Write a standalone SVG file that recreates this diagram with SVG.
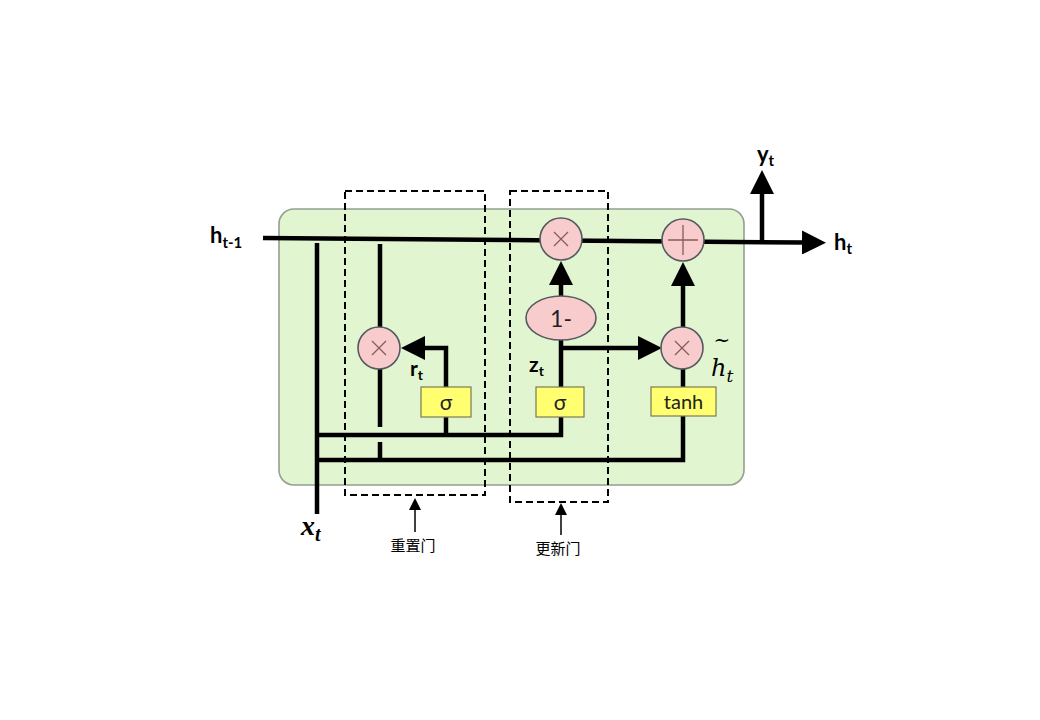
<svg xmlns="http://www.w3.org/2000/svg" width="1040" height="720" viewBox="0 0 1040 720">
<style>
.wire{fill:none;stroke:#000;stroke-width:4.5;stroke-linecap:butt;stroke-linejoin:miter}
.thin{fill:none;stroke:#000;stroke-width:1.5}
.dash{fill:none;stroke:#000;stroke-width:2;stroke-dasharray:7 4}
.op{fill:#f8cccc;stroke:#555a60;stroke-width:1.6}
.sym{stroke:#8a5a5a;stroke-width:1.3;fill:none}
.act{fill:#ffff70;stroke:#7a7a50;stroke-width:1.2}
.lab{font-family:Lato,"Liberation Sans",sans-serif;font-weight:bold;fill:#000}
.in{font-family:Lato,"Liberation Sans",sans-serif;fill:#222}
.zh{font-family:"Noto Sans CJK SC",sans-serif;font-size:15px;fill:#000}
</style>
<defs>
<marker id="ah" viewBox="0 0 24 24" markerWidth="24" markerHeight="24" markerUnits="userSpaceOnUse" refX="2" refY="12" orient="auto">
<path d="M0,0 L24,12 L0,24 z" fill="#000"/>
</marker>
<marker id="sa" viewBox="0 0 12 12" markerWidth="12" markerHeight="12" markerUnits="userSpaceOnUse" refX="1" refY="6" orient="auto">
<path d="M0,0 L12,6 L0,12 z" fill="#000"/>
</marker>
</defs>
<rect width="1040" height="720" fill="#fff"/>
<g id="cell"><rect x="279" y="209" width="465" height="276" rx="15" fill="#e1f6d0" stroke="#939f90" stroke-width="1.6"/></g>
<g id="reset-gate-box"><rect class="dash" x="345" y="191" width="140" height="304"/></g>
<g id="update-gate-box"><rect class="dash" x="510" y="191" width="98" height="311"/></g>
<g id="connectors">
<path class="wire" d="M263,238 L804,242.5" marker-end="url(#ah)"/>
<path class="wire" d="M762,242 V192" marker-end="url(#ah)"/>
<path class="wire" d="M317,243 V514"/>
<path class="wire" d="M380,244 V427"/>
<path class="wire" d="M380,442 V460"/>
<path class="wire" d="M317,435 H561 V318"/>
<path class="wire" d="M561,348 H640" marker-end="url(#ah)"/>
<path class="wire" d="M446,435 V348 H423" marker-end="url(#ah)"/>
<path class="wire" d="M317,460 H683 V348"/>
<path class="wire" d="M561,296 V283" marker-end="url(#ah)"/>
<path class="wire" d="M683,327 V284" marker-end="url(#ah)"/>
<path class="thin" d="M415,532 V509" marker-end="url(#sa)"/>
<path class="thin" d="M561,535 V514" marker-end="url(#sa)"/>
</g>
<g id="reset-mult"><circle class="op" cx="379" cy="348" r="21"/><path class="sym" d="M372,341 L386,355 M386,341 L372,355"/></g>
<g id="update-mult"><circle class="op" cx="561" cy="239" r="21"/><path class="sym" d="M554,232 L568,246 M568,232 L554,246"/></g>
<g id="add"><circle class="op" cx="683" cy="240" r="21"/><path class="sym" d="M668,240 H698 M683,225 V255"/></g>
<g id="cand-mult"><circle class="op" cx="682" cy="348" r="21"/><path class="sym" d="M675,341 L689,355 M689,341 L675,355"/></g>
<g id="one-minus"><ellipse class="op" cx="561" cy="318" rx="35" ry="22"/><text class="in" x="561" y="327" font-size="23" text-anchor="middle">1-</text></g>
<g id="sigma-r"><rect class="act" x="421" y="387" width="50" height="30"/><text class="in" x="446" y="410" font-size="21" text-anchor="middle">σ</text></g>
<g id="sigma-z"><rect class="act" x="536" y="387" width="48" height="30"/><text class="in" x="560" y="410" font-size="21" text-anchor="middle">σ</text></g>
<g id="tanh"><rect class="act" x="651" y="387" width="65" height="29"/><text class="in" x="683.5" y="409" font-size="20" text-anchor="middle">tanh</text></g>
<g id="labels">
<text class="lab" x="210" y="243" font-size="22">h<tspan font-size="15" dy="5">t-1</tspan></text>
<text class="lab" x="757" y="162" font-size="22">y<tspan font-size="15" dy="4">t</tspan></text>
<text class="lab" x="834" y="250" font-size="22">h<tspan font-size="15" dy="4">t</tspan></text>
<text class="lab" x="410" y="376" font-size="21">r<tspan font-size="14" dy="4">t</tspan></text>
<text class="lab" x="529" y="372" font-size="21">z<tspan font-size="14" dy="4">t</tspan></text>
<text x="711" y="376" font-family="'DejaVu Serif','Liberation Serif',serif" font-style="italic" font-size="24">h<tspan font-size="17" dy="6">t</tspan></text>
<text x="722" y="347" font-family="'DejaVu Serif','Liberation Serif',serif" font-size="20" text-anchor="middle">~</text>
<text x="301" y="535" font-family="'Liberation Serif',serif" font-style="italic" font-weight="bold" font-size="28">x<tspan font-size="20" dy="6">t</tspan></text>
<text class="zh" x="413" y="551" text-anchor="middle">重置门</text>
<text class="zh" x="558" y="554" text-anchor="middle">更新门</text>
</g>
</svg>
